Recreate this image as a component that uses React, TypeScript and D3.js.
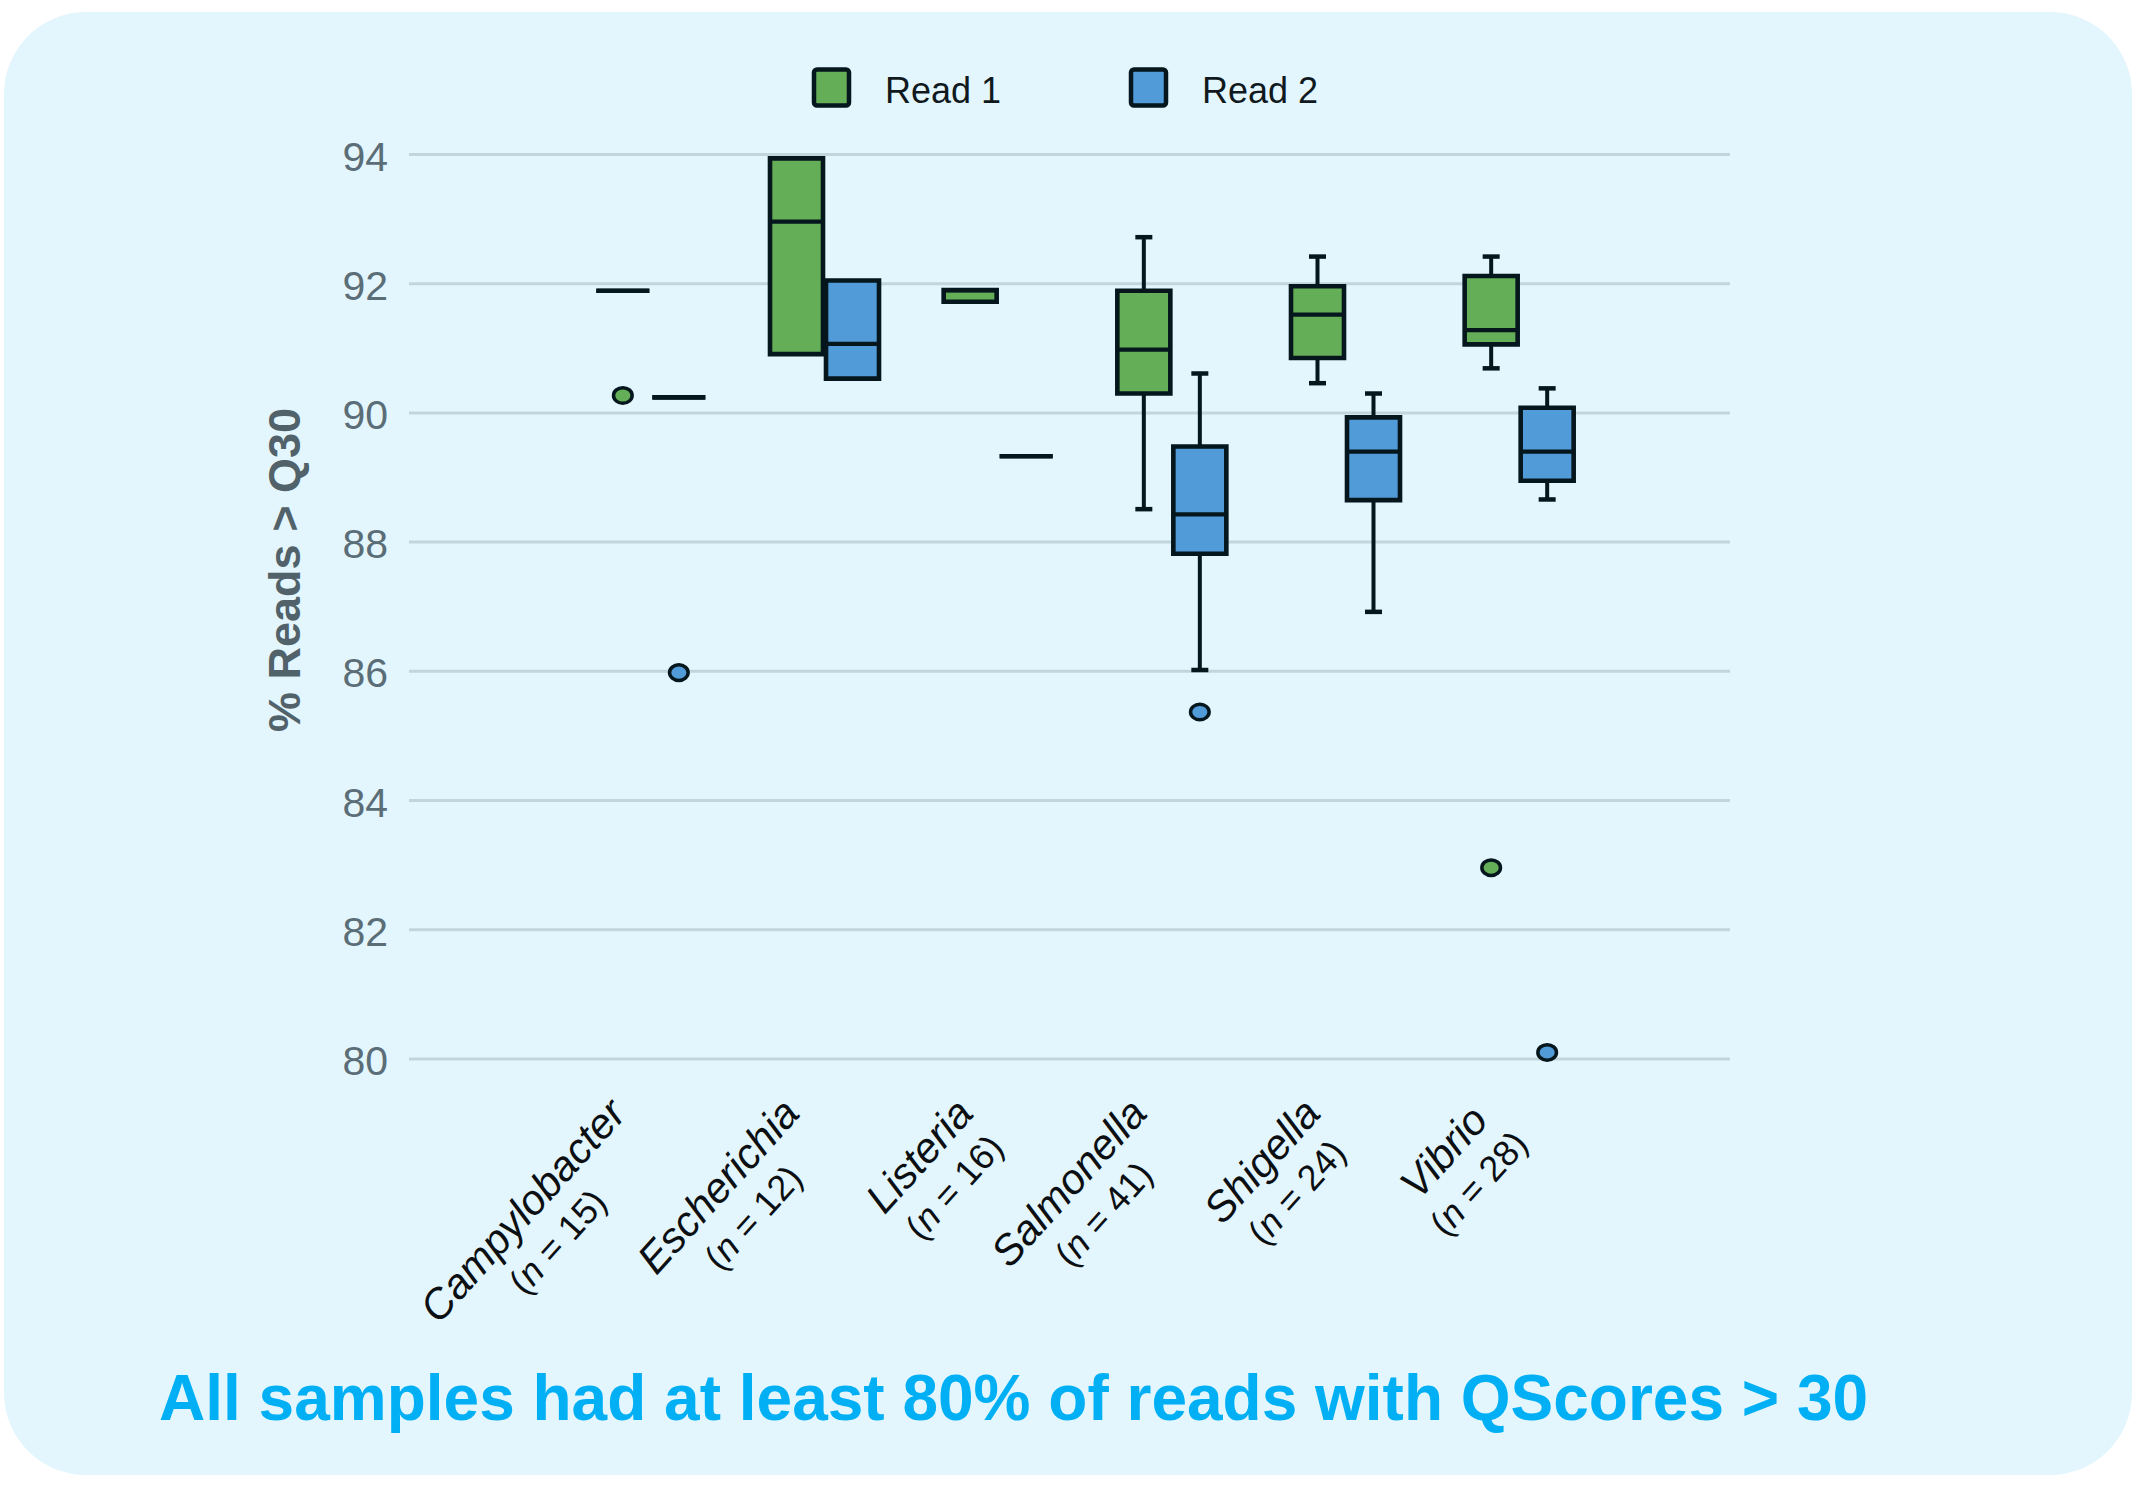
import React from "react";
import * as d3 from "d3";

// Genus groups and sample counts
const categories = ["Campylobacter", "Escherichia", "Listeria", "Salmonella", "Shigella", "Vibrio"];
const sampleCounts = [15, 12, 16, 41, 24, 28];
const seriesNames = ["Read 1", "Read 2"];

// Box statistics per genus: [lower whisker, Q1, median, Q3, upper whisker]
const read1Boxes: number[][] = [
  [91.89, 91.89, 91.89, 91.89, 91.89],
  [90.91, 90.91, 92.96, 93.94, 93.94],
  [91.72, 91.72, 91.9, 91.9, 91.9],
  [88.51, 90.3, 90.98, 91.89, 92.72],
  [90.46, 90.85, 91.52, 91.96, 92.42],
  [90.69, 91.06, 91.28, 92.12, 92.42],
];
const read2Boxes: number[][] = [
  [90.24, 90.24, 90.24, 90.24, 90.24],
  [90.53, 90.53, 91.07, 92.05, 92.05],
  [89.33, 89.33, 89.33, 89.33, 89.33],
  [86.02, 87.82, 88.43, 89.48, 90.61],
  [86.92, 88.65, 89.4, 89.93, 90.3],
  [88.66, 88.95, 89.4, 90.08, 90.38],
];
// Points beyond the whiskers
const read1Outliers: number[][] = [[90.27], [], [], [], [], [82.96]];
const read2Outliers: number[][] = [[85.98], [], [], [85.37], [], [80.1]];

const yTicks = [80, 82, 84, 86, 88, 90, 92, 94];

const WIDTH = 2139;
const HEIGHT = 1486;
const FONT = "'Liberation Sans', Arial, Helvetica, sans-serif";
const STROKE = "#05161d";
const FILLS = ["#64ae57", "#519bd8"];

const PLOT_LEFT = 409;
const PLOT_RIGHT = 1730;

const y = d3.scaleLinear().domain([80, 94]).range([1058.9, 154.5]);
const x = d3.scaleBand<string>().domain(categories).range([564, 1606]);
const groupOffsets = [-28, 28];
const BOX_W = 53;
const CAP_W = 17;
const LABEL_ANGLE = -48;

let measureCtx: CanvasRenderingContext2D | null = null;
function textWidth(str: string, font: string): number {
  if (!measureCtx) {
    const c = document.createElement("canvas");
    measureCtx = c.getContext("2d");
  }
  if (!measureCtx) return str.length * 20;
  measureCtx.font = font;
  return measureCtx.measureText(str).width;
}

function BoxMark({ stats, cx, fill }: { stats: number[]; cx: number; fill: string }) {
  const [lf, q1, med, q3, uf] = stats;
  const x0 = cx - BOX_W / 2;
  const x1 = cx + BOX_W / 2;
  const yq1 = y(q1);
  const yq3 = y(q3);
  const boxPath = `M${x0},${yq3}H${x1}V${yq1}H${x0}Z`;
  return (
    <g>
      {uf > q3 && (
        <g stroke={STROKE} strokeWidth={4}>
          <line x1={cx} x2={cx} y1={yq3} y2={y(uf)} />
          <line x1={cx - CAP_W / 2} x2={cx + CAP_W / 2} y1={y(uf)} y2={y(uf)} strokeWidth={4.5} />
        </g>
      )}
      {lf < q1 && (
        <g stroke={STROKE} strokeWidth={4}>
          <line x1={cx} x2={cx} y1={yq1} y2={y(lf)} />
          <line x1={cx - CAP_W / 2} x2={cx + CAP_W / 2} y1={y(lf)} y2={y(lf)} strokeWidth={4.5} />
        </g>
      )}
      <path d={boxPath} fill={fill} stroke={STROKE} strokeWidth={4.6} strokeLinejoin="miter" />
      <line x1={x0} x2={x1} y1={y(med)} y2={y(med)} stroke={STROKE} strokeWidth={4.2} />
    </g>
  );
}

function CategoryLabel({ name, n, cx }: { name: string; n: number; cx: number }) {
  const f1 = 42;
  const f2 = 36;
  const w1 = textWidth(name, `italic ${f1}px ${FONT}`);
  const w2 =
    textWidth("(", `${f2}px ${FONT}`) +
    textWidth("n", `italic ${f2}px ${FONT}`) +
    textWidth(` = ${n})`, `${f2}px ${FONT}`);
  const w = Math.max(w1, w2);
  const ax = cx - 23;
  const ay = 1115;
  return (
    <text
      transform={`translate(${ax},${ay}) rotate(${LABEL_ANGLE})`}
      fontFamily={FONT}
      fill="#0b0f12"
      textAnchor="middle"
    >
      <tspan x={-w / 2} y={0} fontSize={f1} fontStyle="italic">
        {name}
      </tspan>
      <tspan x={-w / 2} y={45} fontSize={f2}>
        (<tspan fontStyle="italic">n</tspan>
        {` = ${n})`}
      </tspan>
    </text>
  );
}

export default function App() {
  const bw = x.bandwidth();
  const series = [
    { name: seriesNames[0], boxes: read1Boxes, outliers: read1Outliers, fill: FILLS[0] },
    { name: seriesNames[1], boxes: read2Boxes, outliers: read2Outliers, fill: FILLS[1] },
  ];
  const legendX = [814, 1131];

  return (
    <svg
      width={WIDTH}
      height={HEIGHT}
      style={{ position: "absolute", left: 0, top: 0, display: "block" }}
    >
      <rect x={0} y={0} width={WIDTH} height={HEIGHT} fill="#ffffff" />
      <rect x={4} y={12} width={2128} height={1463} rx={82} ry={82} fill="#e3f6fd" />

      {/* horizontal gridlines */}
      {yTicks.map((t) => (
        <line
          key={`g${t}`}
          x1={PLOT_LEFT}
          x2={PLOT_RIGHT}
          y1={y(t)}
          y2={y(t)}
          stroke="#c1d5dd"
          strokeWidth={3}
        />
      ))}

      {/* y tick labels */}
      {yTicks.map((t) => (
        <text
          key={`t${t}`}
          x={388}
          y={y(t) + 16}
          textAnchor="end"
          fontFamily={FONT}
          fontSize={41}
          fill="#5b6d76"
        >
          {t}
        </text>
      ))}

      {/* y axis title */}
      <text
        transform="translate(300,570) rotate(-90)"
        textAnchor="middle"
        fontFamily={FONT}
        fontSize={45}
        fontWeight="bold"
        fill="#51626a"
      >
        % Reads &gt; Q30
      </text>

      {/* boxes */}
      {series.map((s, si) =>
        categories.map((c, ci) => {
          const cx = (x(c) as number) + bw / 2 + groupOffsets[si];
          return (
            <g key={`${s.name}-${c}`}>
              <BoxMark stats={s.boxes[ci]} cx={cx} fill={s.fill} />
              {s.outliers[ci].map((v, oi) => (
                <ellipse
                  key={oi}
                  cx={cx}
                  cy={y(v)}
                  rx={9.3}
                  ry={7.8}
                  fill={s.fill}
                  stroke={STROKE}
                  strokeWidth={3.5}
                />
              ))}
            </g>
          );
        })
      )}

      {/* category labels */}
      {categories.map((c, ci) => (
        <CategoryLabel key={c} name={c} n={sampleCounts[ci]} cx={(x(c) as number) + bw / 2} />
      ))}

      {/* legend */}
      {series.map((s, si) => (
        <g key={`leg${si}`}>
          <rect
            x={legendX[si]}
            y={69.5}
            width={35}
            height={36}
            rx={3}
            fill={s.fill}
            stroke={STROKE}
            strokeWidth={4.5}
          />
          <text x={legendX[si] + 71} y={102.5} fontFamily={FONT} fontSize={36} fill="#10191d">
            {s.name}
          </text>
        </g>
      ))}

      {/* footnote */}
      <text x={159} y={1420} fontFamily={FONT} fontSize={64} fontWeight="bold" fill="#00aff4">
        All samples had at least 80% of reads with QScores &gt; 30
      </text>
    </svg>
  );
}
